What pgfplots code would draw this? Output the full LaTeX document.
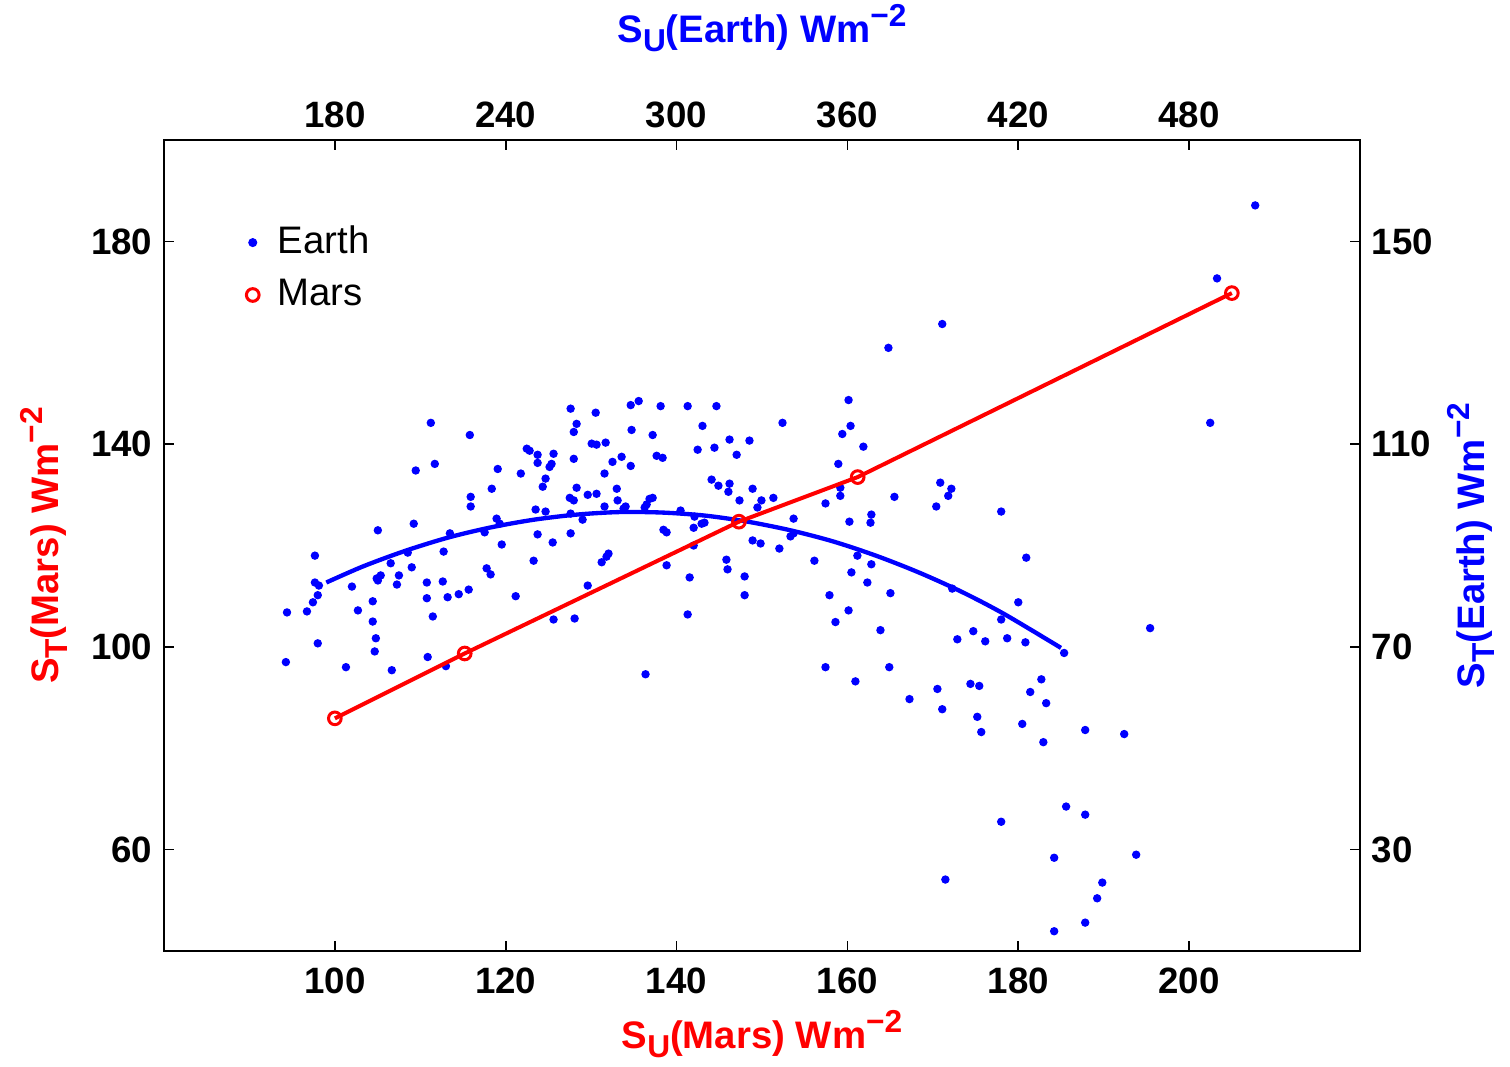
\documentclass[border=0pt]{standalone}
\usepackage{fontspec}
\setmainfont{Liberation Sans}
\usepackage{pgfplots}
\pgfplotsset{compat=1.18}
\definecolor{mred}{RGB}{255,0,0}
\definecolor{eblue}{RGB}{0,0,255}
\newcommand\tickfont{\fontsize{11}{13}\selectfont\bfseries}
\newcommand\labfont{\fontsize{11.5}{14}\selectfont\bfseries}
\newcommand\lab[2]{S\raisebox{-0.45ex}{\fontsize{9.5}{10}\selectfont #1}(#2) Wm\raisebox{0.75ex}{\fontsize{9.5}{10}\selectfont −2}}
\pgfplotsset{
  common/.style={
    scale only axis, width=358.8pt, height=243.3pt,
    tick align=inside, major tick length=3pt,
    axis line style={line width=0.5pt, black},
    every tick/.style={black, line width=0.5pt},
    ticklabel style={font=\tickfont},
    /pgf/number format/assume math mode=true,
    clip=false,
  }
}
\begin{document}
\begin{tikzpicture}
% Earth axis (top / right)
\begin{axis}[common,
  xmin=120, xmax=540, ymin=10, ymax=170,
  xtick={180,240,300,360,420,480}, ytick={30,70,110,150},
  xtick pos=right, xticklabel pos=right, ytick pos=right, yticklabel pos=right,
  every axis x label/.style={at={(axis description cs:0.5,1.1208)}, anchor=base, font=\labfont, text=eblue},
  every axis y label/.style={at={(axis description cs:1.1045,0.5)}, rotate=90, anchor=base, font=\labfont, text=eblue},
  xlabel={\lab{U}{Earth}}, ylabel={\lab{T}{Earth}},
]
\addplot[only marks, mark=*, mark size=1.05pt, mark options={draw=eblue, fill=eblue}] table {
x y
173.0 82.7
174.4 82.1
186.0 81.9
195.1 83.1
201.8 82.3
212.3 82.7
217.9 82.9
174.0 80.2
172.3 78.8
163.2 76.8
170.2 77.0
188.1 77.2
193.3 79.0
212.3 79.6
219.6 79.8
223.5 80.4
227.0 81.3
193.3 75.0
214.4 76.0
194.4 71.7
174.0 70.7
194.0 69.1
162.8 67.0
183.9 66.0
200.0 65.4
212.6 68.0
219.0 66.2
213.7 114.2
215.1 106.1
208.4 104.8
227.4 111.8
227.7 99.6
227.7 97.7
207.7 94.3
195.1 93.0
220.4 92.4
173.0 88.0
218.2 88.8
199.6 86.5
207.0 85.7
196.1 84.1
202.5 84.1
194.7 83.5
205.6 88.6
262.8 117.0
271.6 116.2
283.9 117.7
286.7 118.5
294.4 117.5
264.9 114.0
263.9 112.4
284.2 112.8
291.6 111.8
270.2 110.1
271.9 109.9
275.1 110.3
247.4 109.1
248.4 108.7
251.2 107.9
256.8 108.1
263.9 107.1
277.5 106.5
280.7 107.5
283.9 105.7
293.0 107.7
295.1 107.3
251.2 106.3
256.1 106.1
255.4 105.5
237.2 105.1
245.3 104.2
254.0 103.2
274.7 104.2
235.1 101.2
253.0 101.6
264.9 101.4
279.0 101.2
262.5 99.4
263.9 98.9
268.8 100.0
271.9 100.2
279.3 98.9
290.5 99.2
291.6 99.4
274.7 97.7
282.1 97.7
281.4 97.3
289.5 98.1
288.8 97.5
250.5 97.1
254.0 96.7
236.8 95.3
237.9 94.3
262.8 96.3
267.0 95.1
232.6 92.6
251.2 92.2
262.8 92.4
295.4 93.1
296.5 92.6
238.6 90.2
256.5 90.6
276.1 88.4
275.4 87.8
273.7 86.7
249.8 87.0
233.3 85.5
234.7 84.3
296.5 86.1
243.5 80.0
268.8 82.1
256.8 75.4
264.2 75.6
289.1 64.6
303.9 117.5
314.0 117.5
360.4 118.7
309.1 113.6
337.2 114.2
361.1 113.6
358.2 112.0
318.6 110.9
325.6 110.7
307.4 108.9
313.3 109.3
321.1 107.9
365.6 109.5
356.8 106.1
312.3 103.0
314.7 101.8
318.6 102.2
318.2 100.6
326.7 101.2
357.5 101.4
357.5 99.8
322.1 98.9
329.8 98.9
328.4 97.5
334.0 99.4
352.3 98.3
301.4 96.9
306.3 95.7
308.8 94.3
309.8 94.5
306.0 93.5
341.1 95.3
340.0 91.8
341.1 92.4
360.7 94.7
306.0 90.0
326.7 91.0
329.5 90.4
336.1 89.4
317.5 87.2
317.9 85.3
348.4 87.0
363.5 88.0
304.6 83.7
323.9 83.9
361.4 84.7
323.9 80.2
303.9 76.4
353.7 80.2
360.4 77.2
355.8 74.9
367.0 82.7
352.3 66.0
362.8 63.2
393.3 133.7
374.4 129.0
392.6 102.4
396.5 101.2
395.4 99.8
376.5 99.6
391.2 97.7
414.0 96.7
368.4 96.1
368.1 94.5
422.8 87.6
368.4 86.3
375.1 80.6
396.8 81.5
420.0 78.8
414.0 75.4
371.6 73.3
404.2 73.1
398.6 71.5
408.4 71.1
416.1 71.7
422.5 70.9
436.1 68.8
374.7 66.0
391.6 61.7
403.2 62.7
406.3 62.3
428.1 63.6
424.2 61.1
429.8 58.9
381.8 59.7
393.3 57.7
405.6 56.2
407.0 53.2
421.4 54.8
428.8 51.2
436.8 38.5
414.0 35.5
432.6 28.4
394.4 24.1
432.6 13.9
503.2 157.1
489.8 142.7
487.4 114.2
466.3 73.7
443.5 53.6
457.2 52.8
443.5 36.9
461.4 29.0
449.5 23.5
447.7 20.4
443.5 15.6
};
\addplot[eblue, line width=1.3pt, smooth] coordinates {
(177,82.7) (190,85.9) (205,89.0) (220,91.6) (235,93.6) (250,95.1) (265,96.1)
(280,96.6) (295,96.5) (310,95.9) (325,94.7) (340,93.0) (355,90.8) (370,88.0)
(385,84.7) (400,80.9) (415,76.5) (435,69.8)
};
\end{axis}
% Mars axis (bottom / left)
\begin{axis}[common,
  xmin=80, xmax=220, ymin=40, ymax=200,
  xtick={100,120,...,200}, ytick={60,100,140,180},
  xtick pos=left, ytick pos=left,
  xticklabel style={yshift=-1.5pt},
  every axis x label/.style={at={(axis description cs:0.5,-0.1196)}, anchor=base, font=\labfont, text=mred},
  every axis y label/.style={at={(axis description cs:-0.0886,0.5)}, rotate=90, anchor=base, font=\labfont, text=mred},
  xlabel={\lab{U}{Mars}}, ylabel={\lab{T}{Mars}},
  legend style={at={(axis description cs:0.060,0.911)}, anchor=north west, draw=none, fill=none,
    font=\fontsize{11.5}{14}\selectfont, row sep=2.1pt,
    /tikz/every odd column/.append style={column sep=3.6pt}},
  legend cell align=left,
]
\addlegendimage{only marks, mark=*, mark size=1.15pt, mark options={draw=eblue, fill=eblue}}
\addlegendentry{Earth}
\addlegendimage{only marks, mark=o, mark size=1.9pt, mark options={draw=mred, fill=white, line width=0.9pt}}
\addlegendentry{Mars}
\addplot[mred, line width=1.2pt, mark=o, mark size=1.9pt, mark options={draw=mred, fill=white, line width=0.9pt}, forget plot] coordinates {
(100,85.9) (115.2,98.7) (147.3,124.7) (161.2,133.5) (205,169.8)
};
\end{axis}
\pgfresetboundingbox
\path[use as bounding box] (-49.2pt,-34.5pt) rectangle (403.8pt,285.3pt);
\end{tikzpicture}
\end{document}
